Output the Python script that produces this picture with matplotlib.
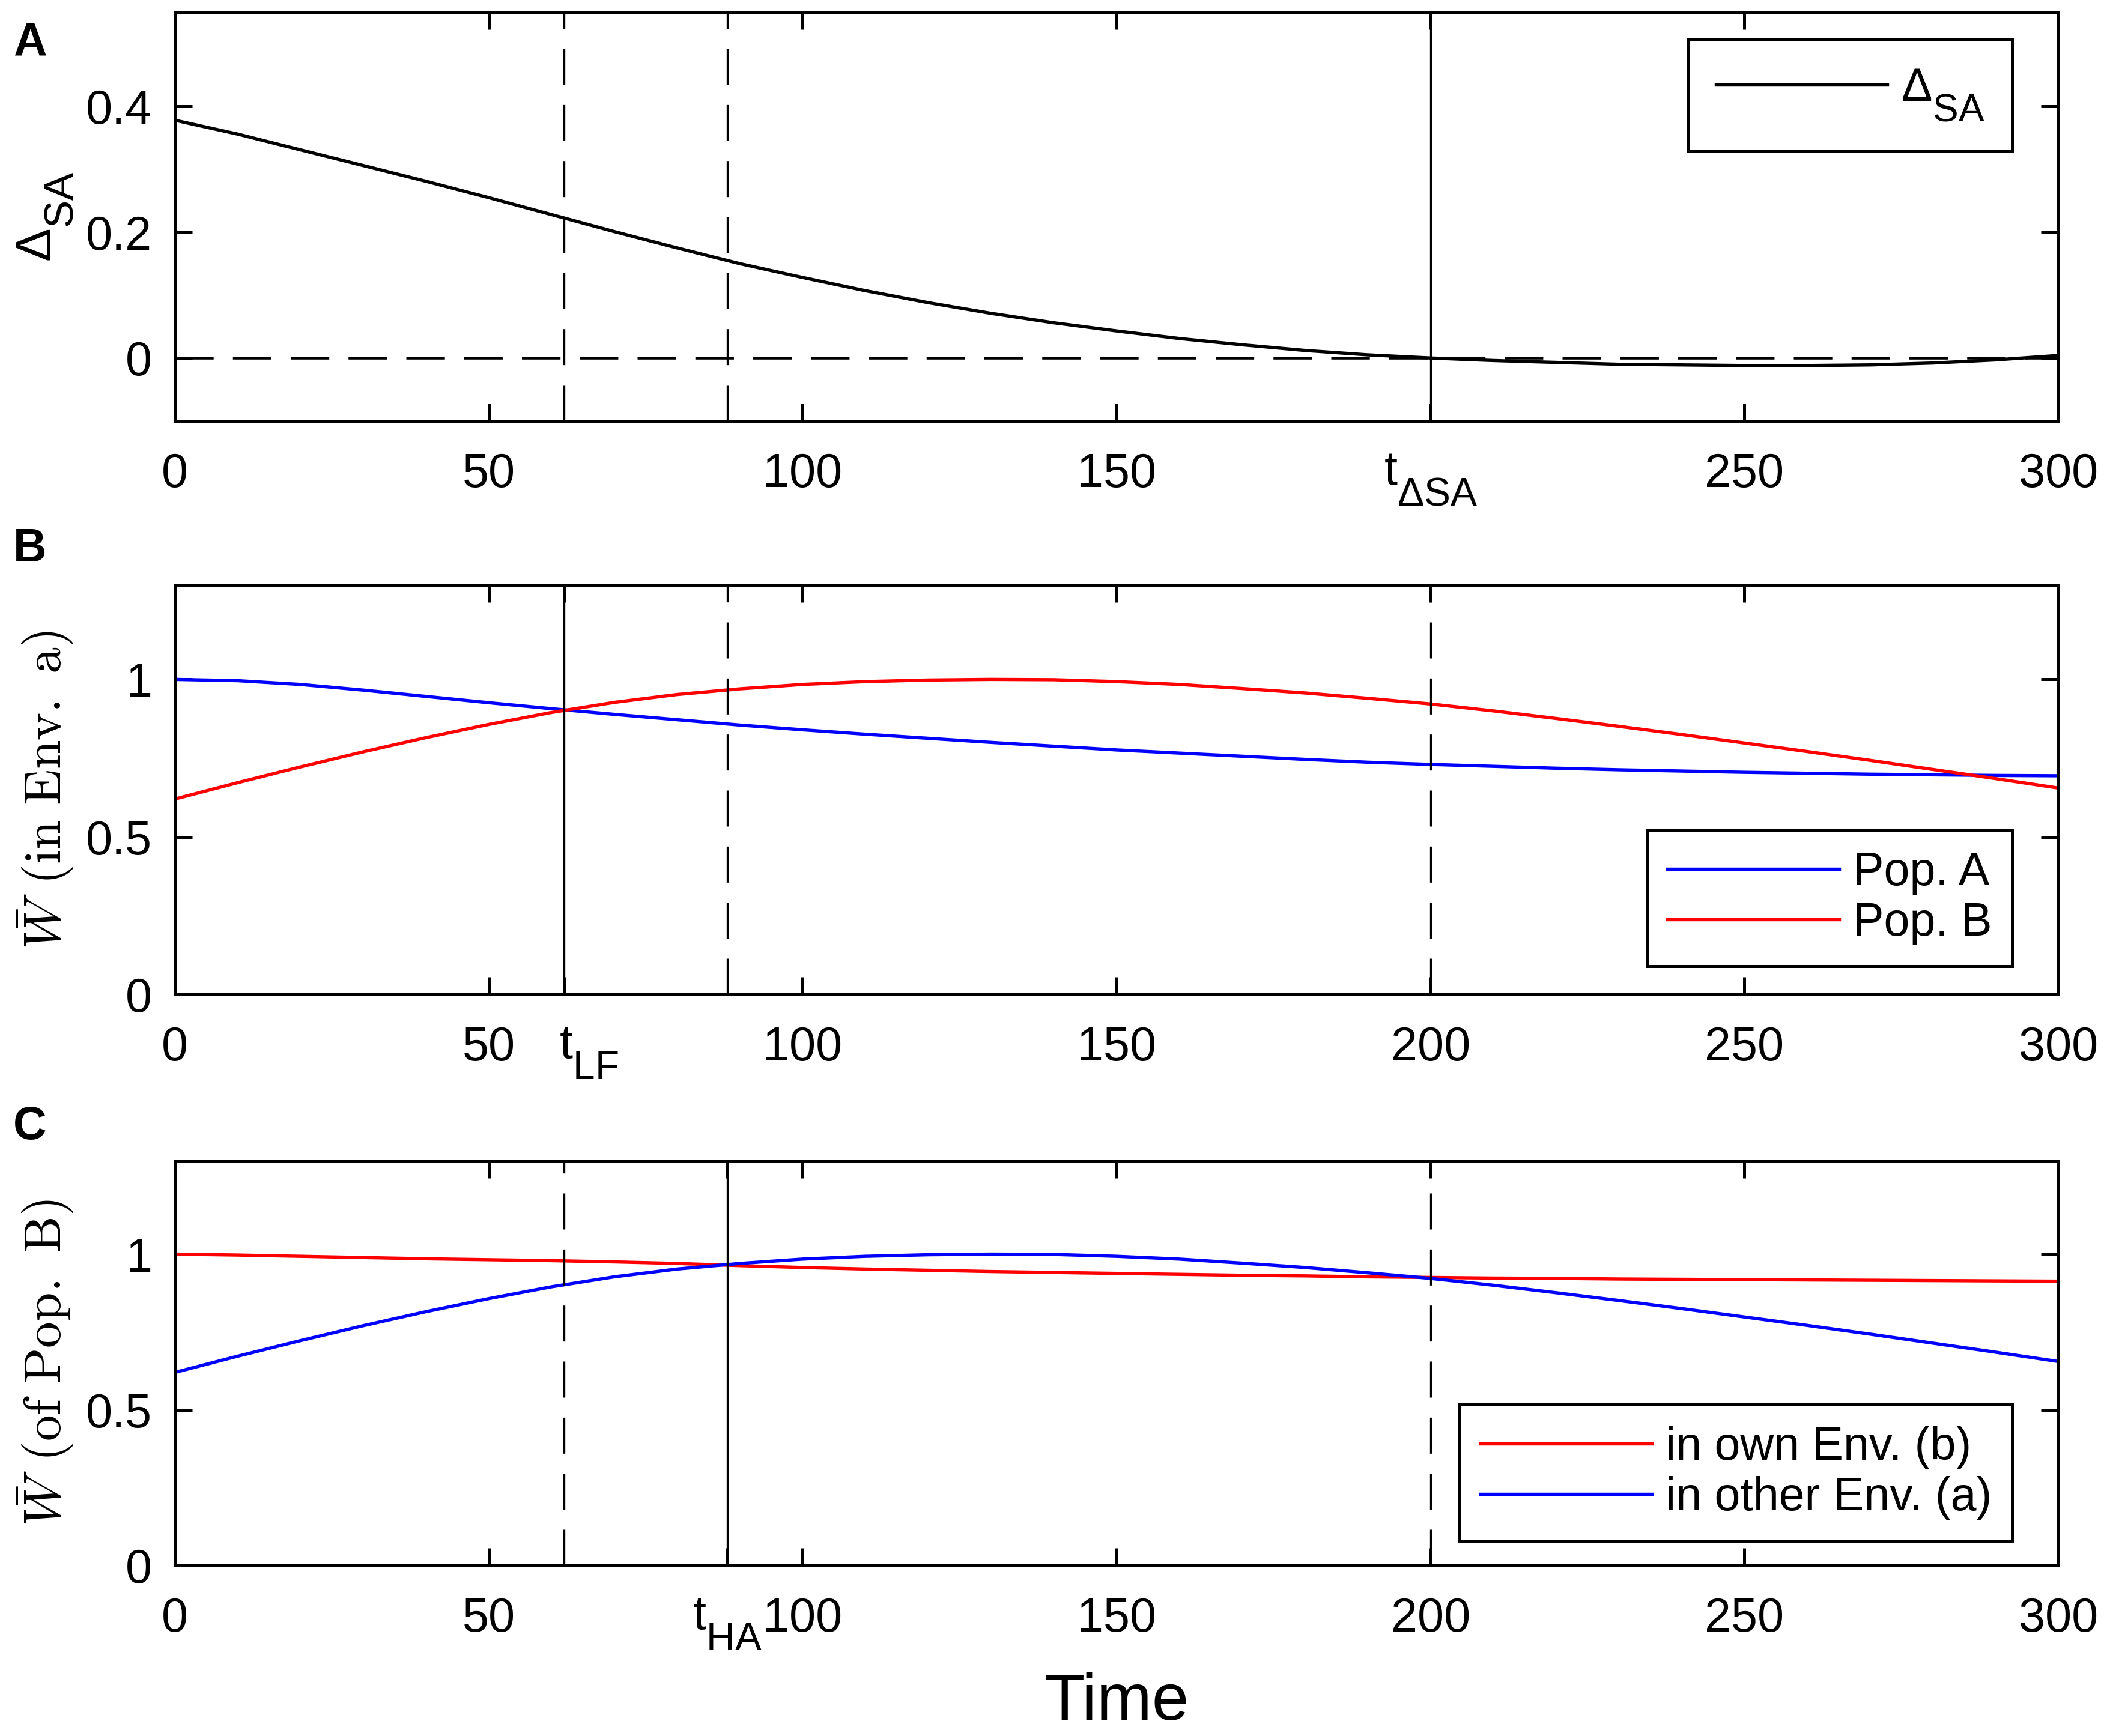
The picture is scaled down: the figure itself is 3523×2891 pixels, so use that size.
import matplotlib
matplotlib.use('Agg')
import matplotlib.pyplot as plt
import matplotlib.transforms as mtransforms

# larger, lower subscripts (closer to the MATLAB TeX look)
try:
    import matplotlib._mathtext as _mt
    _mt.SHRINK_FACTOR = 0.83
    _mt.FontConstantsBase.subdrop = 0.85
    _mt.FontConstantsBase.sub1 = 0.85
except Exception:
    pass

plt.rcParams['font.family'] = ['Liberation Sans', 'DejaVu Sans']
plt.rcParams['mathtext.fontset'] = 'custom'
plt.rcParams['mathtext.rm'] = 'Liberation Sans'
plt.rcParams['mathtext.it'] = 'Liberation Sans:italic'
plt.rcParams['mathtext.bf'] = 'Liberation Sans:bold'

# ---------------- data ----------------
time = [0, 10, 20, 30, 40, 50, 60, 70, 80, 90, 100, 110, 120, 130, 140, 150,
        160, 170, 180, 190, 200, 210, 220, 230, 240, 250, 260, 270, 280, 290, 300]

delta_sa = [0.378, 0.356, 0.331, 0.306, 0.281, 0.255, 0.228, 0.201, 0.175, 0.150,
            0.128, 0.107, 0.088, 0.071, 0.056, 0.043, 0.031, 0.021, 0.012, 0.005,
            0.000, -0.004, -0.007, -0.010, -0.011, -0.012, -0.012, -0.011, -0.008,
            -0.003, 0.004]

# mean fitness of Pop. A in Env. a
w_popA_envA = [1.000, 0.996, 0.984, 0.966, 0.946, 0.926, 0.907, 0.889, 0.872, 0.855,
               0.840, 0.826, 0.813, 0.800, 0.788, 0.776, 0.766, 0.756, 0.746, 0.737,
               0.730, 0.724, 0.718, 0.713, 0.709, 0.705, 0.702, 0.699, 0.697, 0.695,
               0.694]

# mean fitness of Pop. B in Env. a (its "other" environment)
w_popB_envA = [0.620, 0.672, 0.722, 0.770, 0.815, 0.857, 0.895, 0.927, 0.952, 0.970,
               0.984, 0.993, 0.998, 1.000, 0.999, 0.993, 0.984, 0.971, 0.957, 0.940,
               0.922, 0.900, 0.876, 0.851, 0.825, 0.798, 0.771, 0.743, 0.714, 0.685,
               0.655]

# mean fitness of Pop. B in Env. b (its own environment)
w_popB_envB = [1.000, 0.997, 0.993, 0.989, 0.985, 0.982, 0.979, 0.975, 0.970, 0.963,
               0.957, 0.952, 0.948, 0.944, 0.941, 0.938, 0.935, 0.932, 0.930, 0.927,
               0.925, 0.923, 0.922, 0.920, 0.919, 0.918, 0.917, 0.916, 0.915, 0.914,
               0.913]

t_LF = 62
t_HA = 88
t_DSA = 200

xticks_base = [0, 50, 100, 150, 200, 250, 300]

# ---------------- figure ----------------
W, H = 3523, 2891
fig = plt.figure(figsize=(W / 300, H / 300), dpi=300)

left = 291 / W
width = (3427 - 291) / W


def frac_box(top_px, bot_px):
    return [left, 1 - bot_px / H, width, (bot_px - top_px) / H]


axA = fig.add_axes(frac_box(20, 701))
axB = fig.add_axes(frac_box(974, 1656))
axC = fig.add_axes(frac_box(1933, 2607))

TICK_FS = 19
LEG_FS = 18.5
LW_DATA = 1.3
LW_V = 0.8
vdash = (0, (18, 10))
leg_kw = dict(fontsize=LEG_FS, handlelength=3.7, handletextpad=0.3, borderpad=0.45,
              labelspacing=0.15, borderaxespad=0.0, fancybox=False, framealpha=1,
              edgecolor='black')


def style(ax):
    for s in ax.spines.values():
        s.set_linewidth(1.2)
    ax.tick_params(direction='in', top=True, right=True, length=7, width=1.2,
                   labelsize=TICK_FS)
    ax.tick_params(axis='x', pad=12.5)
    ax.tick_params(axis='y', pad=9)
    ax.set_xlim(0, 300)


# ----- Panel A -----
axA.plot(time, delta_sa, color='black', lw=LW_DATA, label=r'$\Delta_{\mathrm{SA}}$')
axA.axhline(0, color='black', lw=1.1, linestyle=(0, (14, 7)))
axA.axvline(t_LF, color='black', lw=LW_V, linestyle=vdash)
axA.axvline(t_HA, color='black', lw=LW_V, linestyle=vdash)
axA.axvline(t_DSA, color='black', lw=LW_V)
axA.set_ylim(-0.1, 0.55)
axA.set_yticks([0, 0.2, 0.4])
axA.set_yticklabels(['0', '0.2', '0.4'])
style(axA)
axA.set_xticks(xticks_base)
axA.set_xticklabels(['0', '50', '100', '150', r'$\mathrm{t}_{\mathrm{\Delta SA}}$', '250', '300'])
axA.set_ylabel(r'$\Delta_{\mathrm{SA}}$', fontsize=20)
axA.yaxis.set_label_coords(-0.053, 0.5)
legA = axA.legend(loc='upper right', bbox_to_anchor=(1 - 76 / 3136, 1 - 45 / 681),
                  **dict(leg_kw, borderpad=0.6))
legA.get_frame().set_linewidth(1.2)

# ----- Panel B -----
axB.plot(time, w_popA_envA, color='blue', lw=LW_DATA, label='Pop. A')
axB.plot(time, w_popB_envA, color='red', lw=LW_DATA, label='Pop. B')
axB.axvline(t_LF, color='black', lw=LW_V)
axB.axvline(t_HA, color='black', lw=LW_V, linestyle=vdash)
axB.axvline(t_DSA, color='black', lw=LW_V, linestyle=vdash)
axB.set_ylim(0, 1.3)
axB.set_yticks([0, 0.5, 1])
axB.set_yticklabels(['0', '0.5', '1'])
style(axB)
axB.set_xticks([0, 50, t_LF, 100, 150, 200, 250, 300])
axB.set_xticklabels(['0', '50', r'$\mathrm{t}_{\mathrm{LF}}$', '100', '150', '200', '250', '300'])
lbl = axB.get_xticklabels()[2]
lbl.set_transform(lbl.get_transform() + mtransforms.ScaledTranslation(10 / 72, 0, fig.dpi_scale_trans))
axB.set_ylabel(r'$\bar{W}\ \mathrm{(in\ Env.\ a)}$', fontsize=21, math_fontfamily='cm')
axB.yaxis.set_label_coords(-0.053, 0.5)
legB = axB.legend(loc='lower right', bbox_to_anchor=(1 - 76 / 3136, 47 / 682), **leg_kw)
legB.get_frame().set_linewidth(1.2)

# ----- Panel C -----
axC.plot(time, w_popB_envB, color='red', lw=LW_DATA, label='in own Env. (b)')
axC.plot(time, w_popB_envA, color='blue', lw=LW_DATA, label='in other Env. (a)')
axC.axvline(t_LF, color='black', lw=LW_V, linestyle=vdash)
axC.axvline(t_HA, color='black', lw=LW_V)
axC.axvline(t_DSA, color='black', lw=LW_V, linestyle=vdash)
axC.set_ylim(0, 1.3)
axC.set_yticks([0, 0.5, 1])
axC.set_yticklabels(['0', '0.5', '1'])
style(axC)
axC.set_xticks([0, 50, t_HA, 100, 150, 200, 250, 300])
axC.set_xticklabels(['0', '50', r'$\mathrm{t}_{\mathrm{HA}}$', '100', '150', '200', '250', '300'])
axC.set_ylabel(r'$\bar{W}\ \mathrm{(of\ Pop.\ B)}$', fontsize=21, math_fontfamily='cm')
axC.yaxis.set_label_coords(-0.053, 0.5)
axC.set_xlabel('Time', fontsize=26.5, va='top')
axC.xaxis.set_label_coords(0.5, -0.264)
legC = axC.legend(loc='lower right', bbox_to_anchor=(1 - 76 / 3136, 41 / 674), **leg_kw)
legC.get_frame().set_linewidth(1.2)

# panel letters
for letter, top_px in (('A', 35), ('B', 878), ('C', 1840)):
    fig.text(22 / W, 1 - top_px / H, letter, fontsize=18.5, fontweight='bold',
             ha='left', va='top')

fig.savefig('out.png', dpi=300)
